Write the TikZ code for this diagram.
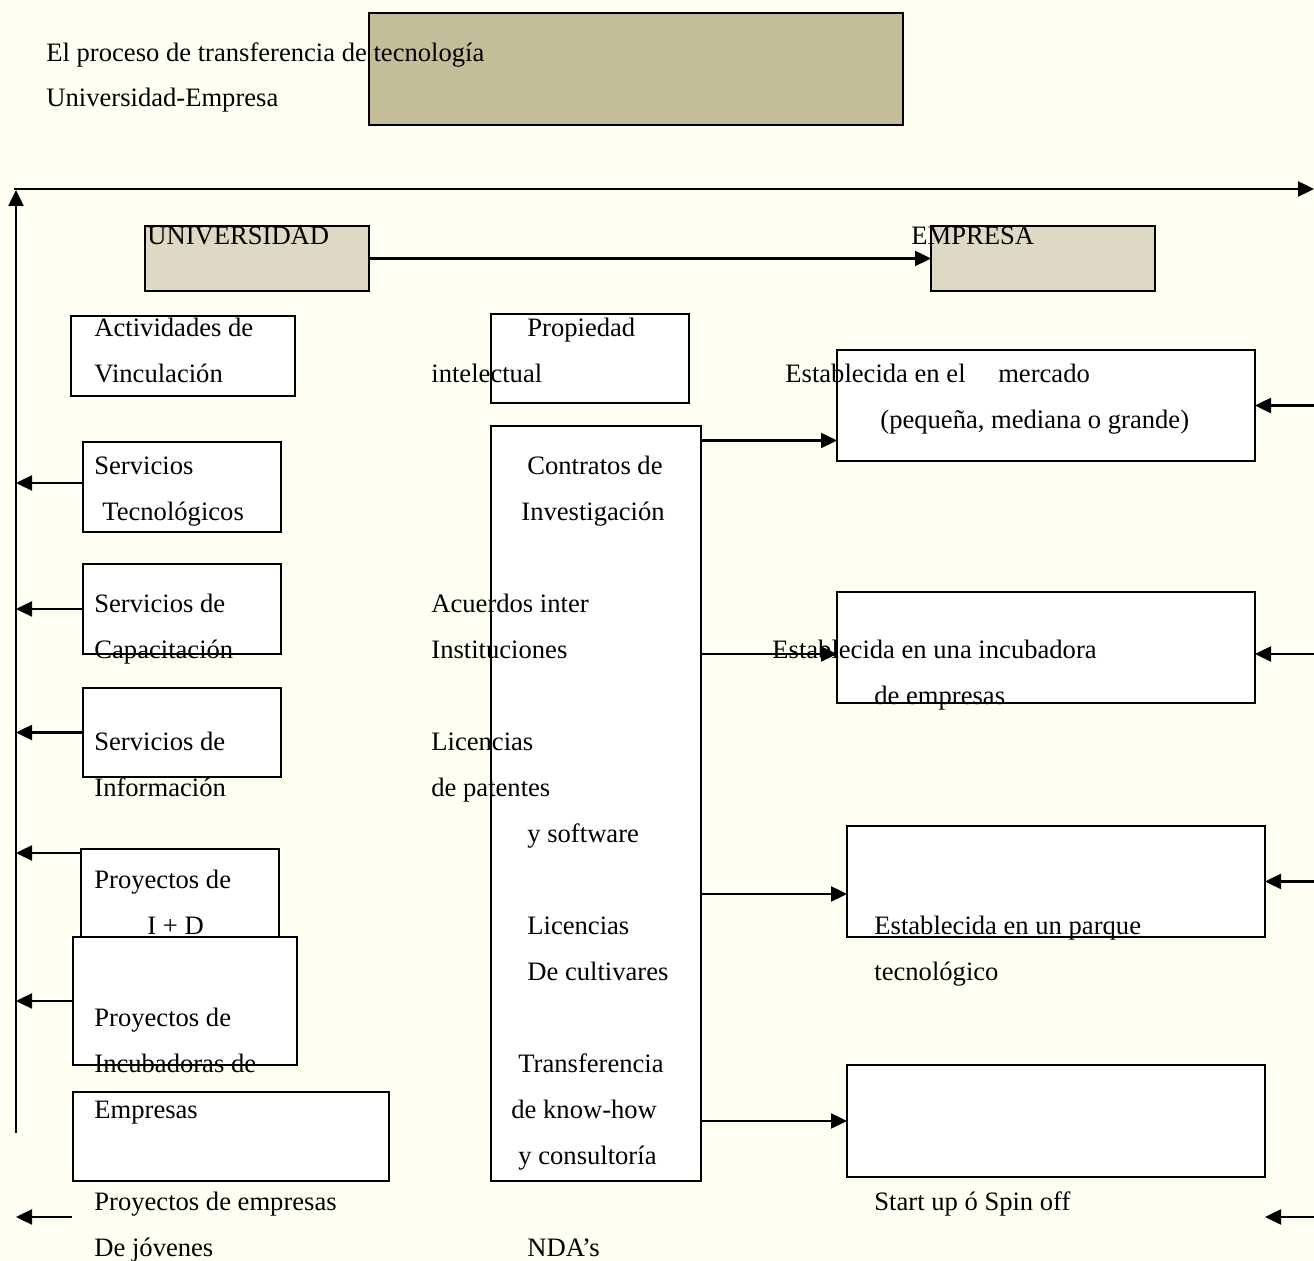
\documentclass[tikz,border=0pt]{standalone}
\usepackage{fontspec}
\setmainfont{Liberation Serif}
\usepackage{tikz}
\usetikzlibrary{arrows.meta, positioning, calc}
\definecolor{bgcol}{RGB}{255,255,242}
\definecolor{tancol}{RGB}{196,189,153}
\definecolor{greycol}{RGB}{221,217,196}
\tikzset{
  box/.style={draw, line width=0.9pt, fill=white, inner sep=0pt, outer sep=0pt},
  arr/.style={line width=1.2pt, -{Triangle[length=8pt,width=7.5pt]}},
  txt/.style={anchor=base west, inner sep=0pt}
}

\begin{document}
\begin{tikzpicture}[x=0.5pt, y=-0.5pt, font=\fontsize{13.3}{15}\selectfont]
\fill[bgcol] (0,0) rectangle (1314,1261);
\useasboundingbox (0,0) rectangle (1314,1261);

% Title
\node[box, fill=tancol, minimum width=267pt, minimum height=56pt] (title) at (636,69) {};
\node[box, fill=greycol, minimum width=112pt, minimum height=32.5pt] (univ) at (257,258.5) {};
\node[box, fill=greycol, minimum width=112pt, minimum height=32.5pt] (emp) at (1043,258.5) {};

% frame lines
\coordinate (vbot) at (16,1133);
\coordinate (vtop) at (16,190);
\coordinate (hl) at (14,189);
\coordinate (hr) at (1314,189);
\coordinate (rgt) at (1314,0);
\draw[arr] (vbot) -- (vtop);
\draw[arr] (hl) -- (hr);
\draw[arr] (univ.east) -- (emp.west);

% Universidad side
\node[box, minimum width=112pt, minimum height=40pt] (act) at (183,356) {};
\node[box, minimum width=99pt, minimum height=45pt] (stec) at (182,487) {};
\node[box, minimum width=99pt, minimum height=45pt] (scap) at (182,609) {};
\node[box, minimum width=99pt, minimum height=44.5pt] (sinf) at (182,732.5) {};
\node[box, minimum width=99pt, minimum height=44pt] (pid) at (180,893) {};
\node[box, minimum width=112pt, minimum height=64pt] (pinc) at (185,1001) {};
\node[box, minimum width=158pt, minimum height=44.5pt] (pemp) at (231,1136.5) {};

\draw[arr] ([yshift=2pt]stec.west) -- ([yshift=2pt]stec.west -| vbot);
\draw[arr] (scap.west) -- (scap.west -| vbot);
\draw[arr] (sinf.west) -- (sinf.west -| vbot);
\draw[arr] ([yshift=-2pt]pid.north west) -- ([yshift=-2pt]pid.north west -| vbot);
\draw[arr] (pinc.west) -- (pinc.west -| vbot);
\coordinate (pfree) at (72,1217);
\draw[arr] (pfree) -- (pfree -| vbot);

% middle column
\node[box, minimum width=99pt, minimum height=44.5pt] (prop) at (590,358.5) {};
\node[box, minimum width=105pt, minimum height=377.5pt] (mech) at (596,803.5) {};

% Empresa side
\node[box, minimum width=209pt, minimum height=55.5pt] (emerc) at (1046,405.5) {};
\node[box, minimum width=209pt, minimum height=55.5pt] (eincu) at (1046,647.5) {};
\node[box, minimum width=209pt, minimum height=55.5pt] (epark) at (1056,881.5) {};
\node[box, minimum width=209pt, minimum height=56pt] (espin) at (1056,1121) {};

\draw[arr] ([yshift=-17.5pt]emerc.west -| mech.east) -- ([yshift=-17.5pt]emerc.west);
\draw[arr] ([yshift=-3.25pt]eincu.west -| mech.east) -- ([yshift=-3.25pt]eincu.west);
\draw[arr] ([yshift=-6.25pt]epark.west -| mech.east) -- ([yshift=-6.25pt]epark.west);
\draw[arr] (espin.west -| mech.east) -- (espin.west);

\draw[arr] (emerc.east -| rgt) -- (emerc.east);
\draw[arr] ([yshift=-3.25pt]eincu.east -| rgt) -- ([yshift=-3.25pt]eincu.east);
\draw[arr] (epark.east -| rgt) -- (epark.east);
\coordinate (sfree) at (1314,1217);
\draw[arr] (sfree) -- (sfree -| espin.east);

% texts
\node[txt] (t1) at (46,62) {El proceso de transferencia de tecnología};
\node[txt] (t2) at (46,107) {Universidad-Empresa};
\node[txt] (tu) at (147,245) {UNIVERSIDAD};
\node[txt] (te) at (911,245) {EMPRESA};

\node[txt] (a1) at (94,337) {Actividades de};
\node[txt] (a2) at (94,383) {Vinculación};
\node[txt] (a3) at (94,475) {Servicios};
\node[txt] (a4) at (102,521) {Tecnológicos};
\node[txt] (a5) at (94,613) {Servicios de};
\node[txt] (a6) at (94,659) {Capacitación};
\node[txt] (a7) at (94,751) {Servicios de};
\node[txt] (a8) at (94,797) {Información};
\node[txt] (a9) at (94,889) {Proyectos de};
\node[txt] (a10) at (147,935) {I + D};
\node[txt] (a11) at (94,1027) {Proyectos de};
\node[txt] (a12) at (94,1073) {Incubadoras de};
\node[txt] (a13) at (94,1119) {Empresas};
\node[txt] (a14) at (94,1211) {Proyectos de empresas};
\node[txt] (a15) at (94,1257) {De jóvenes};

\node[txt] (m1) at (527,337) {Propiedad};
\node[txt] (m2) at (431,383) {intelectual};
\node[txt] (m3) at (527,475) {Contratos de};
\node[txt] (m4) at (521,521) {Investigación};
\node[txt] (m5) at (431,613) {Acuerdos inter};
\node[txt] (m6) at (431,659) {Instituciones};
\node[txt] (m7) at (431,751) {Licencias};
\node[txt] (m8) at (431,797) {de patentes};
\node[txt] (m9) at (527,843) {y software};
\node[txt] (m10) at (527,935) {Licencias};
\node[txt] (m11) at (527,981) {De cultivares};
\node[txt] (m12) at (518,1073) {Transferencia};
\node[txt] (m13) at (511,1119) {de know-how};
\node[txt] (m14) at (518,1165) {y consultoría};
\node[txt] (m15) at (527,1257) {NDA’s};

\node[txt] (e1) at (785,383) {Establecida en el \hspace{13pt}mercado};
\node[txt] (e2) at (880,429) {(pequeña, mediana o grande)};
\node[txt] (e3) at (772,659) {Establecida en una incubadora};
\node[txt] (e4) at (874,705) {de empresas};
\node[txt] (e5) at (874,935) {Establecida en un parque};
\node[txt] (e6) at (874,981) {tecnológico};
\node[txt] (e7) at (874,1211) {Start up ó Spin off};
\end{tikzpicture}
\end{document}
